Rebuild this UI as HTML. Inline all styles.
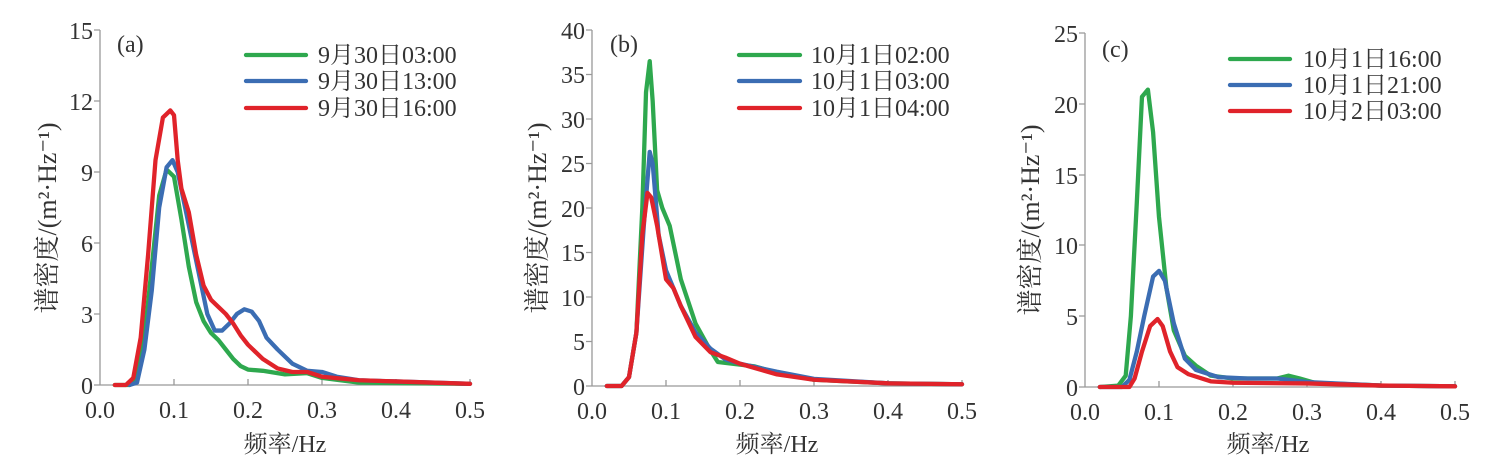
<!DOCTYPE html>
<html><head><meta charset="utf-8"><style>
html,body{margin:0;padding:0;background:#fff}
svg{display:block}
text{font-family:"Liberation Serif","Noto Serif CJK SC",serif;fill:#333}
.t{font-size:24px}
.yl{font-size:26px}
.ax{stroke:#999;stroke-width:1.3;fill:none}
.c{fill:none;stroke-width:4.3;stroke-linejoin:round;stroke-linecap:round;vector-effect:non-scaling-stroke}
.g{stroke:#2ea84e}.b{stroke:#3b6db3}.r{stroke:#e0232a}
.lg{font-size:24px;font-family:"Liberation Serif","Noto Serif CJK SC",serif}
</style></head><body>
<svg width="1504" height="466" viewBox="0 0 1504 466" xmlns="http://www.w3.org/2000/svg">
<!-- Panel a -->
<g>
<path class="ax" d="M100,30V385H470M94,30H100M94,101H100M94,172H100M94,243H100M94,314H100M94,385H100M174,385V379M248,385V379M322,385V379M396,385V379M470,385V379"/>
<g class="t" text-anchor="end"><text x="93" y="39">15</text><text x="93" y="110">12</text><text x="93" y="181">9</text><text x="93" y="252">6</text><text x="93" y="323">3</text><text x="93" y="394">0</text></g>
<g class="t" text-anchor="middle"><text x="100" y="418">0.0</text><text x="174" y="418">0.1</text><text x="248" y="418">0.2</text><text x="322" y="418">0.3</text><text x="396" y="418">0.4</text><text x="470" y="418">0.5</text></g>
<text class="t" x="117" y="52">(a)</text>
<text class="t" x="285" y="452" text-anchor="middle">频率/Hz</text>
<text class="yl" transform="translate(56,218) rotate(-90)" text-anchor="middle">谱密度/(m²·Hz⁻¹)</text>
<g transform="translate(100,385) scale(0.74,-23.67)">
<polyline class="c g" points="20,0 40,0 50,0.3 60,2 70,5 80,8 90,9.1 100,8.8 110,7 120,5 130,3.5 140,2.7 150,2.2 160,1.9 170,1.5 180,1.1 190,0.8 200,0.65 220,0.6 250,0.45 280,0.5 300,0.3 350,0.1 500,0.05"/>
<polyline class="c b" points="40,0 50,0.1 60,1.5 70,4 80,7.5 90,9.2 98,9.5 105,9 115,7.5 125,6 135,4.5 145,3 155,2.3 165,2.3 175,2.6 185,3 195,3.2 205,3.1 215,2.7 225,2 240,1.5 260,0.9 280,0.6 300,0.55 320,0.35 350,0.2 400,0.15 500,0.05"/>
<polyline class="c r" points="20,0 35,0 45,0.3 55,2 65,5.5 75,9.5 85,11.3 95,11.6 100,11.4 105,9.5 110,8.3 120,7.3 130,5.5 140,4.2 150,3.6 160,3.3 170,3 180,2.6 190,2.1 200,1.7 220,1.1 240,0.7 260,0.55 280,0.55 300,0.35 350,0.2 400,0.15 500,0.05"/>
</g>
<path class="c g" d="M246,55H306"/><path class="c b" d="M246,81H306"/><path class="c r" d="M246,108H306"/>
<text class="lg" x="318" y="63">9月30日03:00</text><text class="lg" x="318" y="89">9月30日13:00</text><text class="lg" x="318" y="116">9月30日16:00</text>
</g>
<!-- Panel b -->
<g>
<path class="ax" d="M592,30V386H962M586,30H592M586,74.5H592M586,119H592M586,163.5H592M586,208H592M586,252.5H592M586,297H592M586,341.5H592M586,386H592M666,386V380M740,386V380M814,386V380M888,386V380M962,386V380"/>
<g class="t" text-anchor="end"><text x="585" y="39">40</text><text x="585" y="83">35</text><text x="585" y="128">30</text><text x="585" y="172">25</text><text x="585" y="217">20</text><text x="585" y="261">15</text><text x="585" y="306">10</text><text x="585" y="350">5</text><text x="585" y="395">0</text></g>
<g class="t" text-anchor="middle"><text x="592" y="419">0.0</text><text x="666" y="419">0.1</text><text x="740" y="419">0.2</text><text x="814" y="419">0.3</text><text x="888" y="419">0.4</text><text x="962" y="419">0.5</text></g>
<text class="t" x="610" y="52">(b)</text>
<text class="t" x="777" y="452" text-anchor="middle">频率/Hz</text>
<text class="yl" transform="translate(546,218) rotate(-90)" text-anchor="middle">谱密度/(m²·Hz⁻¹)</text>
<g transform="translate(592,386) scale(0.74,-8.9)">
<polyline class="c g" points="20,0 40,0 50,1 60,6 68,20 73,33 78,36.5 82,32 88,22 95,20 105,18 120,12 140,7 160,4 170,2.7 180,2.6 200,2.4 220,2.2 250,1.5 300,0.7 400,0.3 500,0.2"/>
<polyline class="c b" points="20,0 40,0 50,1 60,6 70,18 78,26.3 82,25 90,17 100,13 120,9 140,6 160,4.2 180,3 200,2.5 250,1.6 300,0.8 400,0.3 500,0.2"/>
<polyline class="c r" points="20,0 40,0 50,1 60,6 68,17 75,21.7 80,21.2 88,18 100,12 110,11 120,9 140,5.5 160,3.8 180,3.2 200,2.5 250,1.3 300,0.7 400,0.3 500,0.2"/>
</g>
<path class="c g" d="M739,55H800"/><path class="c b" d="M739,81H800"/><path class="c r" d="M739,108H800"/>
<text class="lg" x="811" y="63">10月1日02:00</text><text class="lg" x="811" y="89">10月1日03:00</text><text class="lg" x="811" y="116">10月1日04:00</text>
</g>
<!-- Panel c -->
<g>
<path class="ax" d="M1085,33V387H1455M1079,33H1085M1079,104H1085M1079,175H1085M1079,245H1085M1079,316H1085M1079,387H1085M1159,387V381M1233,387V381M1307,387V381M1381,387V381M1455,387V381"/>
<g class="t" text-anchor="end"><text x="1078" y="42">25</text><text x="1078" y="113">20</text><text x="1078" y="184">15</text><text x="1078" y="254">10</text><text x="1078" y="325">5</text><text x="1078" y="396">0</text></g>
<g class="t" text-anchor="middle"><text x="1085" y="420">0.0</text><text x="1159" y="420">0.1</text><text x="1233" y="420">0.2</text><text x="1307" y="420">0.3</text><text x="1381" y="420">0.4</text><text x="1455" y="420">0.5</text></g>
<text class="t" x="1102" y="57">(c)</text>
<text class="t" x="1268" y="452" text-anchor="middle">频率/Hz</text>
<text class="yl" transform="translate(1039,220) rotate(-90)" text-anchor="middle">谱密度/(m²·Hz⁻¹)</text>
<g transform="translate(1085,387) scale(0.74,-14.16)">
<polyline class="c g" points="20,0 45,0.1 55,0.8 62,5 70,13 77,20.5 85,21 92,18 100,12 110,7 120,4 135,2.2 150,1.5 170,0.8 200,0.6 230,0.6 260,0.6 275,0.8 290,0.6 310,0.3 400,0.1 500,0.05"/>
<polyline class="c b" points="20,0 50,0 60,0.5 70,2.5 80,5 92,7.8 100,8.2 108,7.5 120,4.5 135,2 150,1.2 180,0.7 220,0.6 260,0.6 300,0.35 400,0.1 500,0.05"/>
<polyline class="c r" points="20,0 60,0 67,0.6 77,2.5 88,4.3 98,4.8 105,4.3 115,2.5 125,1.4 140,0.9 170,0.4 200,0.3 300,0.25 400,0.1 500,0.05"/>
</g>
<path class="c g" d="M1230,59H1290"/><path class="c b" d="M1230,85H1290"/><path class="c r" d="M1230,111H1290"/>
<text class="lg" x="1303" y="67">10月1日16:00</text><text class="lg" x="1303" y="93">10月1日21:00</text><text class="lg" x="1303" y="119">10月2日03:00</text>
</g>
</svg>
</body></html>
